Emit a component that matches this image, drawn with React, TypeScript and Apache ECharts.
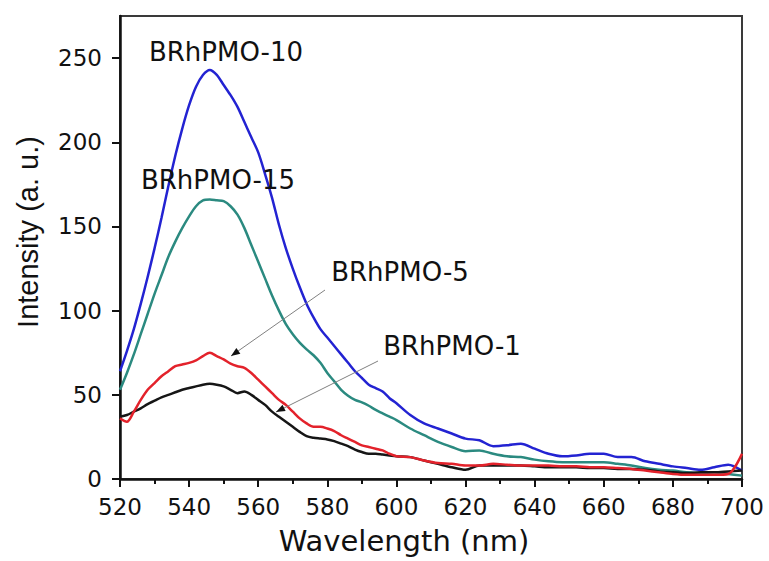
import { useEffect, useRef } from "react";
import * as echarts from "echarts";

const wavelengths = [
  520, 522, 524, 526, 528, 530, 532, 534, 536, 538, 540, 542, 544, 546, 548, 550,
  552, 554, 556, 558, 560, 562, 564, 566, 568, 570, 572, 574, 576, 578, 580, 582,
  584, 586, 588, 590, 592, 594, 596, 598, 600, 604, 608, 612, 616, 620, 624, 628,
  632, 636, 640, 644, 648, 652, 656, 660, 664, 668, 672, 676, 680, 684, 688, 692,
  696, 700,
];

const brhpmo10 = [
  64, 76, 89, 104, 120, 137, 155, 174, 192, 208, 222, 233, 240, 243, 240, 234,
  228, 221, 212, 203, 194, 181, 167, 151, 137, 125, 114, 104, 96, 89, 84, 79,
  74, 69, 64, 60, 56, 54, 52, 48, 45, 38, 33, 30, 27, 24, 23, 19.5,
  20, 21, 18, 15, 13.5, 14, 15, 15, 13, 13, 10.5, 9, 7.5, 6.5, 5.5, 7,
  8.5, 5,
];

const brhpmo15 = [
  53, 63, 74, 86, 98, 110, 121, 132, 141, 149, 156, 162, 165.5, 166, 165.5, 165,
  162, 157, 149, 139, 129, 119, 109, 100, 92, 86, 81, 77, 73.5, 69, 63, 58,
  53, 49.5, 47, 45.5, 43.5, 41, 39, 37, 35, 30, 26, 22, 19, 16.5, 17, 15,
  13.5, 13, 11.5, 10.5, 10, 10, 10, 10, 9, 8, 6.5, 5.5, 5, 4, 3.5, 4,
  3, 2,
];

const brhpmo5 = [
  36, 34, 40, 47, 53, 57, 61, 64, 67, 68, 69, 70.5, 73, 75, 73, 71,
  68.5, 67, 66, 63, 59, 55, 51, 47, 44, 40, 36, 33, 31, 31, 30, 28.5,
  26, 24, 22, 20, 19, 18, 17, 15, 13.5, 13, 11, 9.5, 9, 8, 8, 9,
  8.5, 8, 8, 8, 7.5, 7.5, 7, 7, 6.5, 6, 5, 4, 3, 2.5, 2.5, 2.5,
  3, 15,
];

const brhpmo1 = [
  37, 38, 40, 42, 44.5, 46.5, 48.5, 50, 51.5, 53, 54, 55, 56, 56.5, 56, 55,
  53, 51, 52, 50, 47, 44, 40, 37, 34, 31, 28, 25.5, 24.5, 24, 23.5, 22.5,
  21, 19.5, 17.5, 16, 15, 15, 14.5, 14, 13.5, 13, 11, 9, 7, 5.5, 8, 8,
  8, 8, 7.5, 7, 7, 7, 6.5, 6.5, 6, 6, 5.5, 4.5, 4, 3.5, 4, 4,
  4.5, 5,
];

const yTickValues = [0, 50, 100, 150, 200, 250];

const seriesNames = ["BRhPMO-10", "BRhPMO-15", "BRhPMO-1", "BRhPMO-5"];
const seriesColors = ["#2323d2", "#2b8a80", "#161616", "#e3222b"];

const TICK_FONT = "DejaVu Sans";

function arrowHead(x1: number, y1: number, x2: number, y2: number) {
  const dx = x2 - x1;
  const dy = y2 - y1;
  const L = Math.hypot(dx, dy);
  const ux = dx / L;
  const uy = dy / L;
  const len = 9;
  const w = 3.5;
  const bx = x2 - ux * len;
  const by = y2 - uy * len;
  return [
    [x2, y2],
    [bx - uy * w, by + ux * w],
    [bx + uy * w, by - ux * w],
  ];
}

function arrow(x1: number, y1: number, x2: number, y2: number) {
  return [
    {
      type: "line",
      shape: { x1, y1, x2, y2 },
      style: { stroke: "#808080", lineWidth: 1 },
      z: 10,
    },
    {
      type: "polygon",
      shape: { points: arrowHead(x1, y1, x2, y2) },
      style: { fill: "#111" },
      z: 10,
    },
  ];
}

function label(text: string, x: number, y: number) {
  return {
    type: "text",
    x,
    y,
    z: 10,
    style: {
      text,
      x: 0,
      y: 0,
      align: "center",
      verticalAlign: "middle",
      fontFamily: TICK_FONT,
      fontSize: 26,
      fill: "#111",
    },
  };
}

export default function App() {
  const ref = useRef<HTMLDivElement>(null);

  useEffect(() => {
    if (!ref.current) return;
    const chart = echarts.init(ref.current, undefined, { renderer: "svg" });
    const dataSets = [brhpmo10, brhpmo15, brhpmo1, brhpmo5];

    chart.setOption({
      animation: false,
      backgroundColor: "#ffffff",
      grid: {
        left: 120,
        right: 27,
        top: 16,
        bottom: 82,
        show: true,
        borderColor: "#3a3a3a",
        borderWidth: 2,
        backgroundColor: "transparent",
        containLabel: false,
        outerBoundsMode: "none",
      },
      xAxis: {
        type: "value",
        min: 520,
        max: 700,
        interval: 20,
        axisLine: { show: true, onZero: false, lineStyle: { color: "#111", width: 2.5 } },
        axisTick: { show: true, inside: false, length: 8, lineStyle: { color: "#111", width: 2 } },
        minorTick: { show: true, splitNumber: 2, length: 5, lineStyle: { color: "#111", width: 2 } },
        splitLine: { show: false },
        minorSplitLine: { show: false },
        axisLabel: {
          margin: 16,
          fontFamily: TICK_FONT,
          fontSize: 23,
          color: "#111",
        },
      },
      yAxis: {
        type: "value",
        min: 0,
        max: 275,
        interval: 50,
        axisLine: { show: true, onZero: false, lineStyle: { color: "#111", width: 2.5 } },
        axisTick: {
          show: true,
          inside: false,
          length: 8,
          customValues: yTickValues,
          lineStyle: { color: "#111", width: 2 },
        },
        splitLine: { show: false },
        axisLabel: {
          margin: 18,
          fontFamily: TICK_FONT,
          fontSize: 23,
          color: "#111",
          customValues: yTickValues,
          formatter: (v: number) => (v > 250 ? "" : String(v)),
        },
      },
      series: dataSets.map((vals, i) => ({
        type: "line",
        name: seriesNames[i],
        data: wavelengths.map((w, j) => [w, vals[j]]),
        showSymbol: false,
        symbol: "none",
        smooth: 0.3,
        lineStyle: { color: seriesColors[i], width: 2.5 },
        itemStyle: { color: seriesColors[i] },
        z: 2 + i,
      })),
      graphic: [
        label("BRhPMO-10", 226, 52),
        label("BRhPMO-15", 218, 180),
        label("BRhPMO-5", 400, 272),
        label("BRhPMO-1", 452, 346),
        ...arrow(325, 290, 231, 356),
        ...arrow(378, 361, 276, 412),
        {
          type: "text",
          x: 404,
          y: 541,
          style: {
            text: "Wavelength (nm)",
            x: 0,
            y: 0,
            align: "center",
            verticalAlign: "middle",
            fontFamily: TICK_FONT,
            fontSize: 29,
            fill: "#111",
          },
        },
        {
          type: "text",
          x: 28,
          y: 232,
          rotation: Math.PI / 2,
          style: {
            text: "Intensity (a. u.)",
            x: 0,
            y: 0,
            align: "center",
            verticalAlign: "middle",
            fontFamily: "Liberation Sans",
            fontSize: 29,
            fill: "#111",
          },
        },
      ],
    });

    return () => chart.dispose();
  }, []);

  return (
    <div
      ref={ref}
      style={{
        position: "absolute",
        left: 0,
        top: 0,
        width: 769,
        height: 561,
        background: "#fff",
      }}
    />
  );
}
